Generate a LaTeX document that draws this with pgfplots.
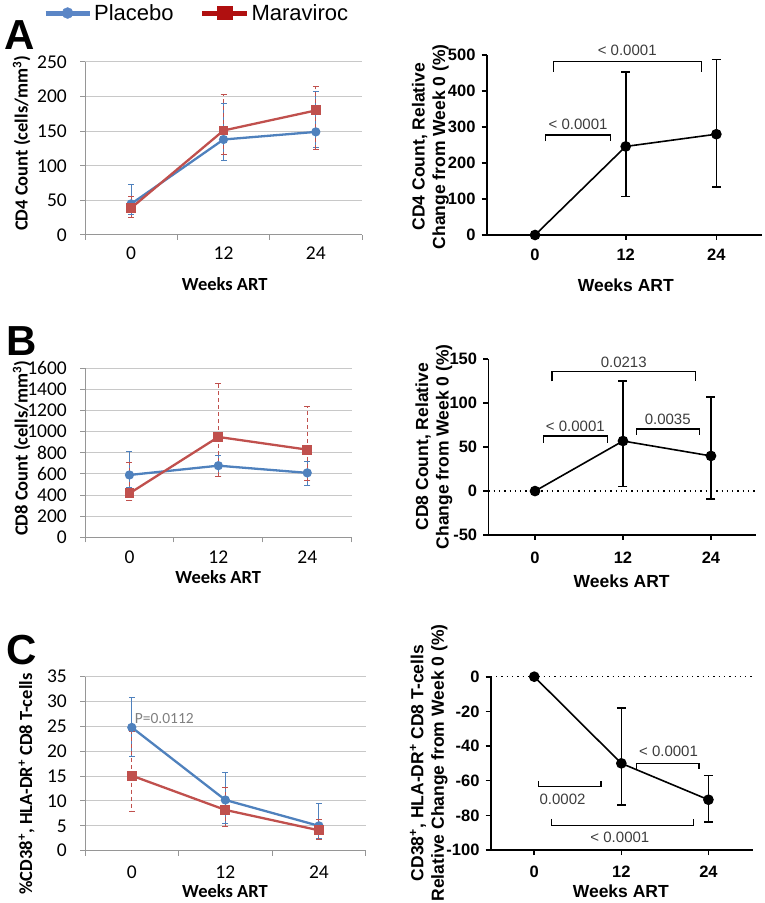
\documentclass[border=0pt]{standalone}
\usepackage{pgfplots}
\pgfplotsset{compat=1.18}
\usepackage{fontspec}
\setmainfont{Liberation Sans}
\newfontfamily\calibri{Carlito}
\newfontfamily\arial{Liberation Sans}
\definecolor{excblue}{RGB}{79,129,189}
\definecolor{excred}{RGB}{192,80,77}
\definecolor{legblue}{RGB}{91,134,198}
\definecolor{legred}{RGB}{176,16,16}
\definecolor{excgrid}{RGB}{200,200,200}
\definecolor{excaxis}{RGB}{150,150,150}
\definecolor{ptext}{RGB}{60,60,60}
\tikzset{
  br/.style={line width=1.3pt, black},
  bt/.style={font=\arial\fontsize{15}{15}\selectfont, text=ptext},
}
\pgfplotsset{
  exc/.style={
    scale only axis, anchor=south west,
    xmin=-0.5, xmax=2.5,
    xtick={-0.5,0.5,1.5,2.5}, xticklabels={},
    extra x ticks={0,1,2}, extra x tick labels={0,12,24},
    extra x tick style={major tick length=0pt},
    axis x line=bottom, axis y line=left,
    axis line style={-, draw=excaxis, line width=1pt},
    tick style={draw=excaxis, line width=1pt},
    tick align=outside, major tick length=5pt,
    ymajorgrids, grid style={draw=excgrid, line width=1pt},
    /pgf/number format/assume math mode=true,
    /pgf/number format/1000 sep={},
    tick label style={font=\calibri\fontsize{19.5}{19.5}\selectfont, inner sep=0pt},
    xticklabel style={anchor=center},
    yticklabel style={anchor=east, xshift=-13pt},
    clip=false,
  },
  exb/.style={excblue, line width=2.3pt, mark=*, mark size=3.4pt,
    mark options={solid, fill=excblue, draw=excblue},
    error bars/y dir=both, error bars/y explicit,
    error bars/error bar style={line width=1pt, excblue, solid},
    error bars/error mark options={rotate=90, line width=1pt, mark size=3pt, excblue, solid}},
  exr/.style={excred, line width=2.3pt, mark=square*, mark size=3.8pt,
    mark options={solid, fill=excred, draw=excred},
    error bars/y dir=both, error bars/y explicit,
    error bars/error bar style={line width=1pt, excred, dash pattern=on 4pt off 3pt},
    error bars/error mark options={rotate=90, line width=1pt, mark size=3pt, excred, solid}},
  prism/.style={
    scale only axis, anchor=south west,
    xmin=-6.4, xmax=30, xtick={0,12,24},
    axis x line=bottom, axis y line=left,
    axis line style={-, line width=1.6pt, black},
    tick style={line width=1.6pt, black},
    tick align=outside, major tick length=5pt,
    /pgf/number format/assume math mode=true,
    tick label style={font=\arial\bfseries\fontsize{16.5}{16.5}\selectfont, inner sep=0pt},
    xticklabel style={anchor=center},
    yticklabel style={anchor=east, xshift=-6pt},
    clip=false,
  },
  pl/.style={black, line width=1.6pt, mark=*, mark size=4.5pt,
    error bars/y dir=both, error bars/y explicit,
    error bars/error bar style={line width=1.6pt, black},
    error bars/error mark options={rotate=90, line width=1.6pt, mark size=4.5pt, black}},
}
\begin{document}
\begin{tikzpicture}[x=1pt,y=1pt]
\useasboundingbox (0,0) rectangle (765,903);
% ---------------- A left
\begin{axis}[exc, at={(85pt,668pt)}, width=277pt, height=173pt,
  ymin=0, ymax=250, ytick={0,50,...,250},
  xticklabel style={yshift=-18.3pt},
  legend style={draw=none, fill=none, inner sep=0pt, at={(axis description cs:-0.152,1.283)}, anchor=west,
    font=\arial\fontsize{22}{22}\selectfont, /tikz/every even column/.append style={column sep=24pt}},
  legend columns=2]
\addlegendimage{legend image code/.code={\draw[line width=5pt, legblue] (0pt,0pt) -- (44pt,0pt); \fill[legblue] (22pt,0pt) circle (5.5pt);}}
\addlegendentry{Placebo}
\addlegendimage{legend image code/.code={\draw[line width=5pt, legred] (0pt,0pt) -- (45pt,0pt); \fill[legred] (15pt,-6.5pt) rectangle (30pt,6.5pt);}}
\addlegendentry{Maraviroc}
\addplot[forget plot, exb] coordinates {(0,45) += (0,28) -= (0,15) (1,138) += (0,52) -= (0,31) (2,149) += (0,58) -= (0,22)};
\addplot[forget plot, exr] coordinates {(0,39) += (0,16) -= (0,13) (1,151) += (0,52) -= (0,34) (2,180) += (0,34) -= (0,57)};
\end{axis}
% ---------------- B left
\begin{axis}[exc, at={(85pt,365.7pt)}, width=266.7pt, height=169pt,
  ymin=0, ymax=1600, ytick={0,200,...,1600},
  xticklabel style={yshift=-20.3pt}]
\addplot[exb] coordinates {(0,590) += (0,221) -= (0,120) (1,678) += (0,100) -= (0,106) (2,610) += (0,110) -= (0,116)};
\addplot[exr] coordinates {(0,416) += (0,291) -= (0,72) (1,950) += (0,509) -= (0,371) (2,830) += (0,409) -= (0,295)};
\end{axis}
% ---------------- C left
\begin{axis}[exc, at={(85pt,52.3pt)}, width=280.7pt, height=174pt,
  ymin=0, ymax=35, ytick={0,5,...,35},
  xticklabel style={yshift=-21.5pt}]
\addplot[exb] coordinates {(0,24.8) += (0,6.0) -= (0,5.8) (1,10.2) += (0,5.6) -= (0,4.8) (2,5.0) += (0,4.4) -= (0,2.5)};
\addplot[exr] coordinates {(0,15.1) += (0,8.8) -= (0,7.3) (1,8.2) += (0,4.6) -= (0,3.4) (2,4.1) += (0,2.2) -= (0,1.9)};
\node[anchor=west, font=\calibri\fontsize{15.5}{15.5}\selectfont, text=gray, inner sep=0pt] at (axis cs:0.03,26.6) {P=0.0112};
\end{axis}
% ---------------- A right
\begin{axis}[prism, at={(486.7pt,668pt)}, width=275pt, height=180pt,
  ymin=0, ymax=500, ytick={0,100,...,500},
  xticklabel style={yshift=-15pt}]
\addplot[pl] coordinates {(0,0) (12,246) += (0,206) -= (0,139) (24,280) += (0,207) -= (0,147)};
\draw[br] (axis cs:1.4,261) |- (axis cs:10,278) -- (axis cs:10,261);
\node[bt] at (axis cs:5.7,308) {\textless{} 0.0001};
\draw[br] (axis cs:2.4,453) |- (axis cs:22,481) -- (axis cs:22,453);
\node[bt] at (axis cs:12.2,514) {\textless{} 0.0001};
\end{axis}
% ---------------- B right
\begin{axis}[prism, at={(488.3pt,368pt)}, width=267.4pt, height=175.7pt,
  xmin=-6.37, xmax=30.1,
  ymin=-50, ymax=150, ytick={-50,0,...,150},
  xticklabel style={yshift=-18pt}]
\draw[black, line width=1.3pt, dash pattern=on 1.3pt off 4pt] (axis cs:-6.37,0) -- (axis cs:30.1,0);
\addplot[pl] coordinates {(0,0) (12,57) += (0,68) -= (0,52) (24,40) += (0,67) -= (0,49)};
\draw[br] (axis cs:2.3,125) |- (axis cs:21.9,136) -- (axis cs:21.9,125);
\node[bt] at (axis cs:12.1,146) {0.0213};
\draw[br] (axis cs:1.2,55) |- (axis cs:9.9,62.6) -- (axis cs:9.9,55);
\node[bt] at (axis cs:5.5,74) {\textless{} 0.0001};
\draw[br] (axis cs:13.8,64) |- (axis cs:22.4,70.6) -- (axis cs:22.4,64);
\node[bt] at (axis cs:18.1,82) {0.0035};
\end{axis}
% ---------------- C right
\begin{axis}[prism, at={(490.7pt,53pt)}, width=262pt, height=173.3pt,
  xmin=-6.0, xmax=30.1,
  ymin=-100, ymax=0, ytick={-100,-80,...,0},
  xticklabel style={yshift=-16.7pt}]
\draw[black, line width=1.3pt, dash pattern=on 1.3pt off 4pt] (axis cs:-6,0) -- (axis cs:30.1,0);
\addplot[pl] coordinates {(0,0) (12,-50) += (0,32) -= (0,24) (24,-71) += (0,14) -= (0,13)};
\draw[br] (axis cs:0.6,-60.2) |- (axis cs:9.2,-63.5) -- (axis cs:9.2,-60.2);
\node[bt] at (axis cs:3.9,-70.6) {0.0002};
\draw[br] (axis cs:2.4,-82) |- (axis cs:21.9,-86) -- (axis cs:21.9,-82);
\node[bt] at (axis cs:11.8,-92.7) {\textless{} 0.0001};
\draw[br] (axis cs:14.1,-53.4) |- (axis cs:22.7,-50) -- (axis cs:22.7,-53.4);
\node[bt] at (axis cs:18.5,-43) {\textless{} 0.0001};
\end{axis}
% ---------------- panel letters
\node[font=\arial\bfseries\fontsize{42}{42}\selectfont] at (20,868) {A};
\node[font=\arial\bfseries\fontsize{42}{42}\selectfont] at (22,561.5) {B};
\node[font=\arial\bfseries\fontsize{42}{42}\selectfont] at (21.5,252.5) {C};
% ---------------- axis labels, left (Excel)
\begin{scope}[every node/.style={font=\calibri\bfseries\fontsize{18.5}{18.5}\selectfont, inner sep=0pt}]
\node at (224.7,619) {Weeks ART};
\node at (218.3,326) {Weeks ART};
\node at (225,12) {Weeks ART};
\node[rotate=90] at (21.7,759.7) {CD4 Count (cells/mm\textsuperscript{3})};
\node[rotate=90] at (21.7,454.7) {CD8 Count (cells/mm\textsuperscript{3})};
\node[rotate=90] at (26.7,119) {\%CD38\textsuperscript{+}, HLA-DR\textsuperscript{+} CD8 T-cells};
\end{scope}
% ---------------- axis labels, right (Prism)
\begin{scope}[every node/.style={font=\arial\bfseries\fontsize{17.5}{20.5}\selectfont, inner sep=0pt}]
\node at (625.8,618) {Weeks ART};
\node at (621.7,321.3) {Weeks ART};
\node at (620.8,11.5) {Weeks ART};
\node[rotate=90, align=center] at (430.3,756.3) {CD4 Count, Relative\\Change from Week 0 (\%)};
\node[rotate=90, align=center] at (434,456.3) {CD8 Count, Relative\\Change from Week 0 (\%)};
\node[rotate=90, align=center] at (428.8,140) {CD38\textsuperscript{+}, HLA-DR\textsuperscript{+} CD8 T-cells\\Relative Change from Week 0 (\%)};
\end{scope}
\end{tikzpicture}
\end{document}
